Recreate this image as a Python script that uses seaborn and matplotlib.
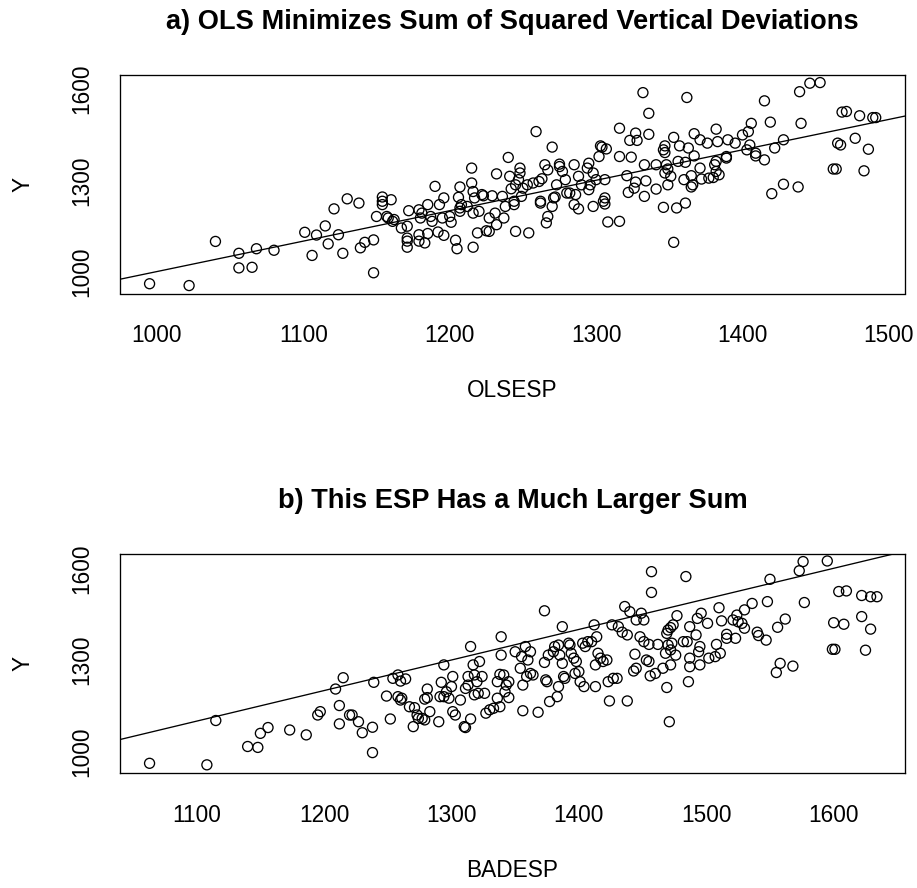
import numpy as np
import pandas as pd
import matplotlib
matplotlib.use("Agg")
import matplotlib.pyplot as plt
import seaborn as sns

# ---------------- data ----------------
olsesp = [995, 1022, 1040, 1056, 1068, 1080, 1056, 1065, 1101, 1109, 1115, 1121, 1130, 1124, 1117, 1106, 1127,
          1138, 1148, 1139, 1142, 1148, 1150, 1154, 1154, 1154, 1160, 1157, 1158, 1161, 1162, 1167, 1171, 1171, 1171,
          1171, 1172, 1179, 1180, 1179, 1179, 1183, 1185, 1181, 1185, 1187, 1188, 1190, 1193, 1192, 1196, 1196, 1195,
          1200, 1201, 1204, 1205, 1207, 1206, 1207, 1207, 1208, 1212, 1215, 1215, 1216, 1216, 1216, 1217, 1219, 1220,
          1222, 1223, 1225, 1227, 1227, 1229, 1231, 1232, 1232, 1236, 1237, 1238, 1240, 1241, 1242, 1244, 1244, 1245,
          1245, 1247, 1248, 1248, 1249, 1250, 1253, 1254, 1257, 1259, 1261, 1262, 1262, 1263, 1265, 1266, 1267, 1267,
          1270, 1270, 1271, 1272, 1273, 1275, 1275, 1277, 1279, 1280, 1282, 1285, 1286, 1285, 1288, 1288, 1290, 1294,
          1295, 1295, 1296, 1298, 1298, 1300, 1302, 1303, 1304, 1305, 1306, 1306, 1306, 1307, 1308,
          1332, 1362, 1336, 1415, 1439, 1446, 1453, 1316, 1327, 1323, 1328, 1336, 1316, 1324, 1347, 1346, 1347, 1353,
          1357, 1363, 1367, 1371, 1376, 1382, 1383, 1390, 1395, 1400, 1404, 1406, 1405, 1403, 1409, 1409, 1415, 1419,
          1422, 1428, 1440, 1321, 1327, 1326, 1322, 1333, 1333, 1341, 1341, 1334, 1348, 1349, 1347, 1351, 1349, 1356,
          1361, 1360, 1365, 1366, 1365, 1367, 1371, 1372, 1377, 1380, 1382, 1384, 1381, 1382, 1389, 1389, 1346, 1355,
          1361, 1353, 1316, 1420, 1428, 1438, 1462, 1464, 1483, 1465, 1467, 1477, 1486, 1468, 1471, 1480, 1489, 1491]
y_top = [960, 954, 1099, 1060, 1075, 1070, 1012, 1014, 1129, 1120, 1150, 1206, 1239, 1121, 1091, 1053, 1060,
         1225, 996, 1078, 1096, 1104, 1181, 1245, 1231, 1220, 1236, 1181, 1176, 1165, 1171, 1143, 1149, 1110, 1100,
         1080, 1200, 1203, 1176, 1121, 1100, 1094, 1125, 1192, 1220, 1181, 1165, 1280, 1220, 1130, 1242, 1119, 1176,
         1181, 1162, 1103, 1075, 1278, 1244, 1209, 1198, 1220, 1214, 1340, 1291, 1263, 1080, 1192, 1242, 1127, 1198,
         1253, 1249, 1134, 1132, 1176, 1249, 1192, 1321, 1154, 1247, 1176, 1214, 1375, 1313, 1272, 1231, 1220, 1132,
         1285, 1302, 1340, 1324, 1247, 1274, 1285, 1127, 1291, 1460, 1296, 1225, 1231, 1305, 1351, 1160, 1181, 1334,
         1409, 1214, 1242, 1245, 1285, 1353, 1345, 1329, 1302, 1258, 1258, 1351, 1253, 1220, 1206, 1313, 1285, 1340,
         1356, 1269, 1285, 1214, 1324, 1302, 1378, 1413, 1409, 1231, 1242, 1222, 1302, 1403, 1163,
         1588, 1572, 1520, 1561, 1591, 1619, 1621, 1471, 1455, 1431, 1431, 1451, 1378, 1376, 1413, 1400, 1391, 1441,
         1413, 1406, 1453, 1433, 1422, 1468, 1427, 1433, 1422, 1449, 1460, 1487, 1416, 1400, 1389, 1380, 1367, 1491,
         1406, 1433, 1487, 1315, 1294, 1274, 1260, 1351, 1247, 1351, 1271, 1298, 1351, 1337, 1324, 1313, 1285, 1362,
         1359, 1302, 1315, 1285, 1278, 1380, 1340, 1304, 1307, 1309, 1329, 1318, 1351, 1362, 1378, 1373, 1211, 1209,
         1225, 1096, 1165, 1256, 1287, 1278, 1337, 1337, 1331, 1422, 1416, 1438, 1402, 1524, 1526, 1512, 1506, 1506]

badesp = [1063, 1108, 1115, 1140, 1148, 1150, 1156, 1173, 1186, 1195, 1197, 1209, 1215, 1212, 1212, 1220,
          1222, 1227, 1230, 1238, 1238, 1239, 1249, 1252, 1254, 1258, 1260, 1258, 1261, 1260, 1264, 1267, 1270, 1271,
          1273, 1274, 1277, 1279, 1283, 1281, 1281, 1279, 1290, 1292, 1291, 1294, 1294, 1296, 1298, 1301, 1300, 1301,
          1303, 1307, 1310, 1311, 1315, 1315, 1311, 1313, 1313, 1317, 1318, 1320, 1318, 1322, 1324, 1321, 1326, 1327,
          1330, 1333, 1336, 1336, 1338, 1338, 1339, 1339, 1341, 1342, 1343, 1345, 1345, 1350, 1354, 1355, 1356, 1356,
          1358, 1359, 1360, 1362, 1362, 1364, 1368, 1373, 1373, 1374, 1375, 1376, 1377, 1380, 1381, 1383, 1384, 1384,
          1385, 1387, 1387, 1388, 1389, 1392, 1393, 1394, 1396, 1397, 1398, 1400, 1401, 1403, 1404, 1405, 1407, 1410,
          1412, 1413, 1413, 1414, 1415, 1417, 1419, 1422, 1423, 1424, 1426, 1427, 1430, 1431,
          1457, 1484, 1457, 1550, 1573, 1576, 1595, 1436, 1440, 1445, 1449, 1451, 1438, 1434, 1438, 1471, 1444, 1443,
          1445, 1448, 1451, 1455, 1453, 1455, 1456, 1460, 1462, 1466, 1469, 1468, 1470, 1472, 1472, 1473, 1474, 1470,
          1469, 1472, 1477, 1476, 1482, 1485, 1486, 1487, 1487, 1487, 1492, 1493, 1495, 1494, 1495, 1496, 1501, 1502,
          1508, 1507, 1510, 1511, 1512, 1516, 1516, 1523, 1521, 1524, 1525, 1528, 1530, 1530, 1536, 1540, 1541, 1547,
          1548, 1556, 1562, 1555, 1558, 1568, 1577, 1600, 1608, 1622, 1629, 1599, 1601, 1625, 1604, 1610, 1622, 1629,
          1634]
y_bot = [962, 957, 1102, 1017, 1014, 1060, 1079, 1071, 1055, 1120, 1131, 1205, 1242, 1151, 1091, 1120,
         1120, 1098, 1062, 1080, 997, 1227, 1182, 1107, 1240, 1251, 1231, 1180, 1175, 1169, 1238, 1147, 1082, 1144,
         1120, 1109, 1109, 1104, 1131, 1205, 1177, 1172, 1098, 1227, 1180, 1180, 1284, 1196, 1175, 1246, 1213, 1131,
         1120, 1169, 1082, 1079, 1344, 1107, 1207, 1246, 1218, 1284, 1251, 1229, 1186, 1295, 1246, 1191, 1191, 1126,
         1137, 1142, 1229, 1175, 1253, 1147, 1316, 1376, 1251, 1196, 1218, 1177, 1229, 1327, 1273, 1311, 1218, 1134,
         1344, 1246, 1300, 1327, 1256, 1251, 1129, 1461, 1292, 1235, 1229, 1316, 1164, 1327, 1344, 1180, 1213, 1349,
         1316, 1409, 1289, 1246, 1240, 1355, 1349, 1322, 1306, 1256, 1295, 1262, 1229, 1355, 1213, 1344, 1360, 1360,
         1415, 1284, 1213, 1376, 1322, 1306, 1295, 1300, 1229, 1166, 1415, 1240, 1240, 1409,
         1589, 1573, 1521, 1564, 1592, 1622, 1624, 1475, 1458, 1431, 1453, 1431, 1382, 1391, 1166, 1098, 1319, 1264,
         1273, 1376, 1360, 1351, 1300, 1295, 1248, 1256, 1351, 1273, 1210, 1322, 1349, 1333, 1284, 1355, 1415, 1398,
         1387, 1406, 1445, 1316, 1360, 1360, 1229, 1409, 1278, 1306, 1382, 1436, 1284, 1327, 1344, 1453, 1420, 1306,
         1351, 1311, 1471, 1322, 1428, 1384, 1371, 1371, 1431, 1447, 1425, 1420, 1404, 1464, 1485, 1391, 1380, 1365,
         1491, 1407, 1434, 1259, 1289, 1280, 1488, 1422, 1417, 1442, 1401, 1335, 1335, 1332, 1524, 1526, 1511, 1507,
         1507]

# reference lines drawn in both panels (intercept, slope): identity line
line_intercept = [0.0, 0.0]
line_slope = [1.0, 1.0]

titles = ["a) OLS Minimizes Sum of Squared Vertical Deviations",
          "b) This ESP Has a Much Larger Sum"]
xlabels = ["OLSESP", "BADESP"]
xticks_top = [1000, 1100, 1200, 1300, 1400, 1500]
xticks_bot = [1100, 1200, 1300, 1400, 1500, 1600]
yticks = [1000, 1100, 1200, 1300, 1400, 1500, 1600]
ytick_labels = ["1000", "", "", "1300", "", "", "1600"]

# ---------------- style ----------------
sns.set_style("white")
plt.rcParams["font.family"] = ["Liberation Sans", "DejaVu Sans"]
plt.rcParams["axes.linewidth"] = 1.0
for key in ["text.color", "axes.labelcolor", "xtick.color", "ytick.color", "axes.edgecolor"]:
    plt.rcParams[key] = "black"

W, H = 917, 888
fig = plt.figure(figsize=(W / 100, H / 100), dpi=100)

def px_axes(left, top, right, bottom):
    return fig.add_axes([left / W, 1 - bottom / H, (right - left) / W, (bottom - top) / H])

ax1 = px_axes(120, 74.7, 905, 293.5)
ax2 = px_axes(120, 554, 905, 773.3)

df1 = pd.DataFrame({"OLSESP": olsesp, "Y": y_top})
df2 = pd.DataFrame({"BADESP": badesp, "Y": y_bot})

panels = [
    (ax1, df1, "OLSESP", xticks_top, (974.8, 1511.0), (927.9, 1646.9)),
    (ax2, df2, "BADESP", xticks_bot, (1039.8, 1656.0), (929.3, 1646.8)),
]

FS = 16.3
for i, (ax, df, xcol, xt, xl, yl) in enumerate(panels):
    sns.scatterplot(data=df, x=xcol, y="Y", ax=ax, marker="o", s=52,
                    facecolors="none", edgecolor="black", linewidth=0.95, legend=False)
    ax.axline((0, line_intercept[i]), slope=line_slope[i], color="black", linewidth=0.95)
    ax.set_xlim(*xl)
    ax.set_ylim(*yl)
    ax.set_xticks(xt)
    ax.set_xticklabels([str(v) for v in xt], fontsize=FS, color="black")
    ax.set_yticks(yticks)
    ax.set_yticklabels(ytick_labels, fontsize=FS, rotation=90, va="center", color="black")
    ax.tick_params(axis="both", direction="out", length=10.8, width=0.95, color="black")
    ax.tick_params(axis="x", pad=11.0)
    ax.tick_params(axis="y", pad=8.5)
    for sp in ax.spines.values():
        sp.set_visible(True)
        sp.set_color("black")
        sp.set_linewidth(0.95)
    ax.set_xlabel(xlabels[i], fontsize=FS, color="black")
    ax.set_ylabel("Y", fontsize=FS, color="black")
    ax.xaxis.set_label_coords(0.5, -97.5 / 219.0)
    ax.xaxis.label.set_va("center")
    ax.yaxis.set_label_coords(-97.5 / 785.0, 0.5)
    ax.yaxis.label.set_va("center")
    ax.set_title(titles[i], fontsize=19.6, fontweight="bold", pad=33, color="black")

fig.savefig("out.png", dpi=100, facecolor="white")
